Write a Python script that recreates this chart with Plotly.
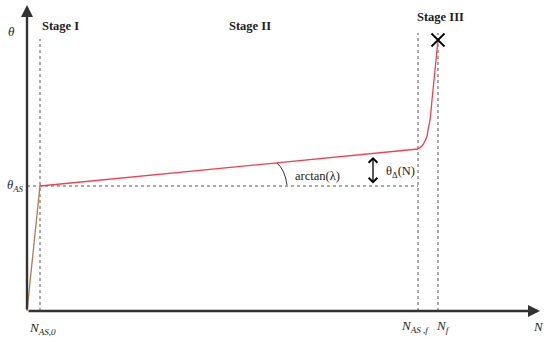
import plotly.graph_objects as go

# ---- schematic data (arbitrary units) ----
N_AS0 = 13
N_ASf = 391
N_f = 411
theta_AS = 125

stage1_N = [0, 13]
stage1_theta = [0, 125]
stage2_N = [13, 391]
stage2_theta = [125, 162]
stage3_N = [391, 395, 398, 400, 401, 403, 405, 407, 409, 411]
stage3_theta = [162, 165, 170, 175, 181, 191, 211, 231, 251, 271]

stage_labels = ["Stage I", "Stage II", "Stage III"]
stage_label_N = [33, 223, 413]
stage_label_theta = [285, 285, 294]

x_axis_end = 513
y_axis_end = 306
guide_top = [272, 278]

SERIF = "Liberation Serif"
AXC = "#333333"
DOT = "#555555"

fig = go.Figure()

# guide lines (dotted)
fig.add_trace(go.Scatter(x=[N_AS0, N_AS0], y=[0, guide_top[0]], mode="lines",
                         line=dict(color=DOT, width=1, dash="dot"), hoverinfo="skip"))
fig.add_trace(go.Scatter(x=[N_ASf, N_ASf], y=[0, guide_top[1]], mode="lines",
                         line=dict(color=DOT, width=1, dash="dot"), hoverinfo="skip"))
fig.add_trace(go.Scatter(x=[N_f, N_f], y=[0, guide_top[1]], mode="lines",
                         line=dict(color=DOT, width=1, dash="dot"), hoverinfo="skip"))
fig.add_trace(go.Scatter(x=[0, N_ASf], y=[theta_AS, theta_AS], mode="lines",
                         line=dict(color=DOT, width=1, dash="dot"), hoverinfo="skip"))

# curves
fig.add_trace(go.Scatter(x=stage1_N, y=stage1_theta, mode="lines",
                         line=dict(color="#b07a50", width=1.3)))
fig.add_trace(go.Scatter(x=stage2_N, y=stage2_theta, mode="lines",
                         line=dict(color="#f04050", width=1.3)))
fig.add_trace(go.Scatter(x=stage3_N, y=stage3_theta, mode="lines",
                         line=dict(color="#f04050", width=1.3, shape="spline")))

# failure marker
fig.add_trace(go.Scatter(x=[stage3_N[-1]], y=[stage3_theta[-1]], mode="markers",
                         marker=dict(symbol="x-thin-open", size=13, color="black",
                                     line=dict(color="black", width=1.8)), hoverinfo="skip"))

ann = []
# axes arrows
ann.append(dict(x=0, y=y_axis_end, ax=0, ay=0, xref="x", yref="y", axref="x", ayref="y",
                showarrow=True, arrowhead=2, arrowsize=1, arrowwidth=2.4, arrowcolor=AXC, text=""))
ann.append(dict(x=x_axis_end, y=0, ax=0, ay=0, xref="x", yref="y", axref="x", ayref="y",
                showarrow=True, arrowhead=2, arrowsize=1, arrowwidth=2.4, arrowcolor=AXC, text=""))
# theta_delta double arrow
arrow_N = 346
ann.append(dict(x=arrow_N, y=154, ax=arrow_N, ay=theta_AS + 1, xref="x", yref="y", axref="x", ayref="y",
                showarrow=True, arrowhead=4, startarrowhead=4, arrowside="end+start",
                arrowsize=1.3, startarrowsize=1.3, arrowwidth=1.3, arrowcolor="black", text=""))

def txt(x, y, s, size=12, **kw):
    d = dict(x=x, y=y, xref="x", yref="y", text=s, showarrow=False,
             font=dict(family=SERIF, size=size, color="#222222"))
    d.update(kw)
    ann.append(d)

for lab, xx, yy in zip(stage_labels, stage_label_N, stage_label_theta):
    txt(xx, yy, "<b>" + lab + "</b>", size=12.5)

txt(-16, 280, "<i>θ</i>", size=13)
txt(-12, theta_AS, "<i>θ<sub>AS</sub></i>", size=12.5)
txt(N_AS0 + 2, -17, "<i>N<sub>AS,0</sub></i>", size=13)
txt(N_ASf - 3, -15, "<i>N<sub>AS ,f</sub></i>", size=13)
txt(N_f + 5, -15, "<i>N<sub>f</sub></i>", size=13)
txt(x_axis_end - 2, -15, "<i>N</i>", size=13)
txt(290, 135, "arctan(λ)", size=12.5)
txt(373, 139, "θ<sub>Δ</sub>(N)", size=12.5)

# angle arc
fig.add_shape(type="path", path="M 250,148 Q 258,141 260,126", xref="x", yref="y",
              line=dict(color="#333333", width=1))

fig.update_layout(
    width=550, height=342,
    margin=dict(l=0, r=0, t=0, b=0),
    paper_bgcolor="white", plot_bgcolor="white",
    showlegend=False,
    xaxis=dict(range=[-27, 523], visible=False, fixedrange=True),
    yaxis=dict(range=[-31, 311], visible=False, fixedrange=True),
    annotations=ann,
)

fig.write_html("out.html",
               config={"displayModeBar": False, "staticPlot": True},
               post_script="document.body.style.margin='0';document.body.style.overflow='hidden';")
